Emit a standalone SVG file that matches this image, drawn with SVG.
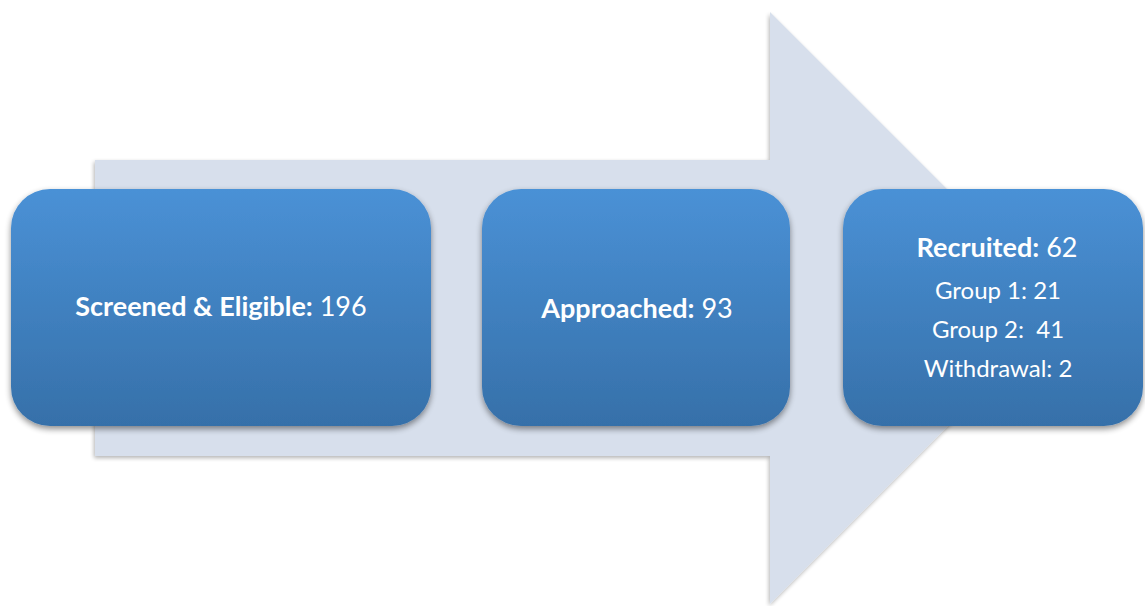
<svg xmlns="http://www.w3.org/2000/svg" width="1145" height="606" viewBox="0 0 1145 606">
<defs>
<linearGradient id="boxGrad" x1="0" y1="0" x2="0" y2="1">
<stop offset="0" stop-color="#4A91D6"/>
<stop offset="1" stop-color="#3670A9"/>
</linearGradient>
<filter id="shadow" x="-10%" y="-10%" width="120%" height="125%">
<feGaussianBlur in="SourceAlpha" stdDeviation="3"/>
<feOffset dx="0" dy="3" result="b"/>
<feComponentTransfer><feFuncA type="linear" slope="0.45"/></feComponentTransfer>
<feMerge><feMergeNode/><feMergeNode in="SourceGraphic"/></feMerge>
</filter>
<filter id="ashadow" x="-10%" y="-10%" width="120%" height="120%">
<feGaussianBlur in="SourceAlpha" stdDeviation="2"/>
<feOffset dx="-1" dy="2" result="b"/>
<feComponentTransfer><feFuncA type="linear" slope="0.3"/></feComponentTransfer>
<feMerge><feMergeNode/><feMergeNode in="SourceGraphic"/></feMerge>
</filter>
</defs>
<style>
.box{fill:url(#boxGrad);filter:url(#shadow)}
.t{font-family:Lato,"Liberation Sans",sans-serif;fill:#ffffff;text-anchor:middle}
.b{font-weight:bold}
</style>
<g id="connectors">
<path d="M95,160 H770 V12 L1066,308 L770,604 V456 H95 Z" fill="#D7DFEC" filter="url(#ashadow)"/>
</g>
<g id="node1">
<rect class="box" x="11" y="189" width="420" height="237" rx="39"/>
<text class="t" x="221" y="316" font-size="27"><tspan class="b">Screened &amp; Eligible:</tspan> 196</text>
</g>
<g id="node2">
<rect class="box" x="482" y="189" width="308" height="237" rx="39"/>
<text class="t" x="637" y="318" font-size="27"><tspan class="b">Approached:</tspan> 93</text>
</g>
<g id="node3">
<rect class="box" x="843" y="189" width="300" height="237" rx="39"/>
<text class="t" x="997" y="257" font-size="27"><tspan class="b">Recruited:</tspan> 62</text>
<text class="t" x="998" y="299" font-size="24">Group 1: 21</text>
<text class="t" x="998" y="338" font-size="24">Group 2:&#160; 41</text>
<text class="t" x="998" y="377" font-size="24">Withdrawal: 2</text>
</g>
</svg>
